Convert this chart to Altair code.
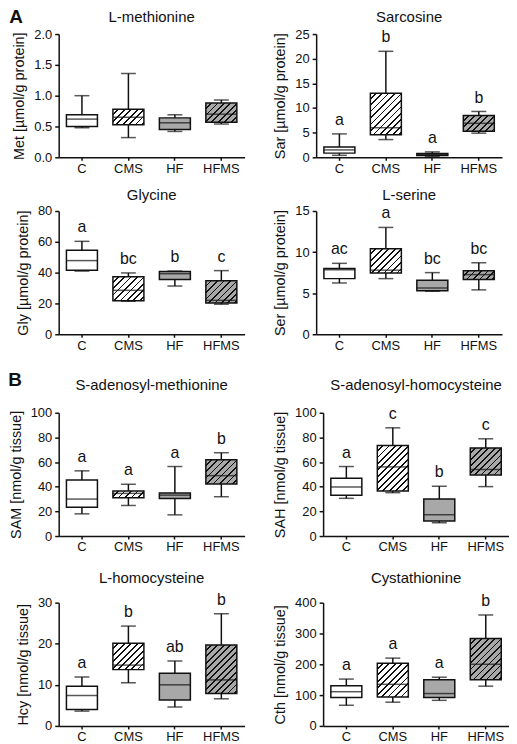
import math
import altair as alt
import pandas as pd

FONT = "Liberation Sans"
INK = "#111111"
GRAY = "#a8a8a8"
GROUPS = ["C", "CMS", "HF", "HFMS"]

# ---- data (min, Q1, median, Q3, max, significance letters) ----
MET_MIN = [0.48, 0.32, 0.42, 0.54]
MET_Q1 = [0.50, 0.53, 0.45, 0.57]
MET_MED = [0.62, 0.65, 0.56, 0.70]
MET_Q3 = [0.69, 0.78, 0.64, 0.88]
MET_MAX = [1.00, 1.36, 0.69, 0.93]
MET_SIG = ["", "", "", ""]

SAR_MIN = [0.4, 3.6, 0.2, 4.9]
SAR_Q1 = [0.85, 4.6, 0.35, 5.3]
SAR_MED = [1.5, 6.0, 0.55, 6.9]
SAR_Q3 = [2.1, 13.0, 0.75, 8.5]
SAR_MAX = [4.75, 21.5, 1.1, 9.3]
SAR_SIG = ["a", "b", "a", "b"]

GLY_MIN = [41.0, 21.4, 31.3, 19.5]
GLY_Q1 = [41.5, 21.8, 35.5, 20.3]
GLY_MED = [47.8, 28.5, 39.3, 22.0]
GLY_Q3 = [54.5, 37.4, 40.8, 34.8]
GLY_MAX = [60.3, 39.8, 41.0, 41.3]
GLY_SIG = ["a", "bc", "b", "c"]

SER_MIN = [6.24, 6.77, 5.23, 5.4]
SER_Q1 = [6.77, 7.46, 5.3, 6.65]
SER_MED = [7.85, 7.8, 5.63, 7.26]
SER_Q3 = [8.0, 10.4, 6.57, 7.74]
SER_MAX = [8.63, 13.0, 7.5, 8.7]
SER_SIG = ["ac", "a", "bc", "bc"]

SAM_MIN = [18.0, 24.8, 17.2, 31.9]
SAM_Q1 = [23.4, 31.0, 30.5, 42.2]
SAM_MED = [30.0, 34.6, 33.2, 49.0]
SAM_Q3 = [45.5, 36.5, 34.9, 61.9]
SAM_MAX = [52.9, 42.0, 56.4, 67.6]
SAM_SIG = ["a", "a", "a", "b"]

SAH_MIN = [30.6, 35.2, 10.8, 40.1]
SAH_Q1 = [33.1, 36.6, 12.2, 49.6]
SAH_MED = [39.8, 56.1, 17.3, 54.0]
SAH_Q3 = [46.9, 73.4, 30.1, 71.5]
SAH_MAX = [56.4, 87.8, 40.4, 78.9]
SAH_SIG = ["a", "c", "b", "c"]

HCY_MIN = [3.6, 10.5, 4.6, 6.6]
HCY_Q1 = [4.0, 13.7, 6.3, 7.9]
HCY_MED = [7.4, 14.8, 10.0, 11.2]
HCY_Q3 = [9.65, 20.1, 12.8, 19.7]
HCY_MAX = [11.9, 24.3, 15.8, 27.3]
HCY_SIG = ["a", "b", "ab", "b"]

CTH_MIN = [67, 77, 83, 129]
CTH_Q1 = [92, 94, 92, 150]
CTH_MED = [111, 135, 105, 200]
CTH_Q3 = [130, 203, 150, 284]
CTH_MAX = [152, 220, 158, 360]
CTH_SIG = ["a", "a", "a", "b"]

W, H = 187, 124
PAD_IN = 0.333
BAND = W / 4 * (1 - PAD_IN)


def hatch(base, w, h, d=4.6, frac=0.28):
    """Diagonal '/' stripes as a sharp-stop linear gradient (bbox units)."""
    w = max(w, 1.0)
    h = max(h, 1.0)
    s = (w + h) / (w * w + h * h)
    n = (w + h) / (math.sqrt(2) * d)
    stops = []
    k = 0
    while k / n < 1:
        a = k / n
        b = (k + 1 - frac) / n
        c = (k + 1) / n
        stops.append((a, base))
        stops.append((min(b, 1), base))
        if b < 1:
            stops.append((b, INK))
            stops.append((min(c, 1), INK))
        k += 1
    return alt.Gradient(
        gradient="linear", x1=0, y1=0, x2=s * w, y2=s * h,
        stops=[alt.GradientStop(offset=o, color=col) for o, col in stops],
    )


def panel(title, ytitle, dmax, step, fmt, mn, q1, md, q3, mx, sig,
          title_y, corner=None):
    df = pd.DataFrame(dict(group=GROUPS, lo=mn, q1=q1, med=md, q3=q3,
                           hi=mx, sig=sig))
    xs = alt.Scale(domain=GROUPS, paddingInner=PAD_IN, paddingOuter=PAD_IN / 2)
    ys = alt.Scale(domain=[0, dmax], nice=False, zero=True)
    nt = int(round(dmax / step))
    tvals = [round(i * step, 6) for i in range(nt + 1)]
    yaxis = alt.Axis(values=tvals, format=fmt, grid=False, tickCount=nt + 1)

    def Y(field):
        return alt.Y(field, type="quantitative", scale=ys, axis=yaxis,
                     title=ytitle)

    base = alt.Chart(df).encode(
        x=alt.X("group:N", scale=xs, sort=GROUPS, title=None,
                axis=alt.Axis(labelAngle=0, tickSize=3, labelPadding=2))
    )
    whisk = base.mark_rule(color=INK, strokeWidth=1.5).encode(
        y=Y("lo"), y2="hi:Q")
    cap_lo = base.mark_tick(color=INK, thickness=1.5, size=15).encode(y=Y("lo"))
    cap_hi = base.mark_tick(color=INK, thickness=1.5, size=15).encode(y=Y("hi"))
    boxes = []
    for i, g in enumerate(GROUPS):
        hpx = (q3[i] - q1[i]) / dmax * H
        if g == "C":
            fill = "white"
        elif g == "HF":
            fill = GRAY
        elif g == "CMS":
            fill = hatch("white", BAND, hpx)
        else:
            fill = hatch(GRAY, BAND, hpx)
        boxes.append(
            base.transform_filter(alt.datum.group == g)
            .mark_bar(fill=fill, stroke=INK, strokeWidth=1.5)
            .encode(y=Y("q1"), y2="q3:Q")
        )
    med = base.mark_tick(color=INK, thickness=1.5, size=BAND).encode(y=Y("med"))
    letters = base.mark_text(
        font=FONT, fontSize=16, color=INK, baseline="alphabetic", dy=-9
    ).encode(y=Y("hi"), text="sig:N")
    ttl = alt.Chart(pd.DataFrame({"t": [title]})).mark_text(
        font=FONT, fontSize=15, color=INK, baseline="middle", align="center"
    ).encode(text="t:N", x=alt.value(W / 2), y=alt.value(title_y))
    layers = [whisk, cap_lo, cap_hi] + boxes + [med, letters, ttl]
    if corner is not None:
        lab, cx, cy = corner
        layers.append(
            alt.Chart(pd.DataFrame({"t": [lab]})).mark_text(
                font=FONT, fontSize=19, fontWeight="bold", color=INK,
                baseline="middle", align="center"
            ).encode(text="t:N", x=alt.value(cx), y=alt.value(cy))
        )
    return alt.layer(*layers).properties(width=W, height=H)


p_met = panel("L-methionine", "Met [µmol/g protein]", 2.0, 0.5, ".1f",
              MET_MIN, MET_Q1, MET_MED, MET_Q3, MET_MAX, MET_SIG, -17,
              corner=("A", -43, -17))
p_sar = panel("Sarcosine", "Sar [µmol/g protein]", 25, 5, "d",
              SAR_MIN, SAR_Q1, SAR_MED, SAR_Q3, SAR_MAX, SAR_SIG, -17)
p_gly = panel("Glycine", "Gly [µmol/g protein]", 80, 20, "d",
              GLY_MIN, GLY_Q1, GLY_MED, GLY_Q3, GLY_MAX, GLY_SIG, -16)
p_ser = panel("L-serine", "Ser [µmol/g protein]", 15, 5, "d",
              SER_MIN, SER_Q1, SER_MED, SER_Q3, SER_MAX, SER_SIG, -16)
p_sam = panel("S-adenosyl-methionine", "SAM [nmol/g tissue]", 100, 20, "d",
              SAM_MIN, SAM_Q1, SAM_MED, SAM_Q3, SAM_MAX, SAM_SIG, -28,
              corner=("B", -44, -33))
p_sah = panel("S-adenosyl-homocysteine", "SAH [nmol/g tissue]", 100, 20, "d",
              SAH_MIN, SAH_Q1, SAH_MED, SAH_Q3, SAH_MAX, SAH_SIG, -28)
p_hcy = panel("L-homocysteine", "Hcy [nmol/g tissue]", 30, 10, "d",
              HCY_MIN, HCY_Q1, HCY_MED, HCY_Q3, HCY_MAX, HCY_SIG, -25)
p_cth = panel("Cystathionine", "Cth [nmol/g tissue]", 400, 100, "d",
              CTH_MIN, CTH_Q1, CTH_MED, CTH_Q3, CTH_MAX, CTH_SIG, -25)

HSP = 28
top = alt.vconcat(
    alt.hconcat(p_met, p_sar, spacing=HSP),
    alt.hconcat(p_gly, p_ser, spacing=HSP),
    spacing=13,
)
bottom = alt.vconcat(
    alt.hconcat(p_sam, p_sah, spacing=HSP),
    alt.hconcat(p_hcy, p_cth, spacing=HSP),
    spacing=17,
)
chart = (
    alt.vconcat(top, bottom, spacing=19)
    .properties(padding={"left": 0, "top": -2, "right": 0, "bottom": 0},
                background="white")
    .configure_view(stroke=None)
    .configure_axis(
        domainColor=INK, domainWidth=1.5, tickColor=INK, tickWidth=1.5,
        labelFont=FONT, labelFontSize=13, labelColor=INK,
        titleFont=FONT, titleFontSize=14.5, titleFontWeight="normal",
        titleColor=INK,
    )
    .configure_axisY(tickSize=4, labelPadding=3, titlePadding=7)
)

chart.save("out.html", embed_options={"renderer": "svg", "actions": False})
